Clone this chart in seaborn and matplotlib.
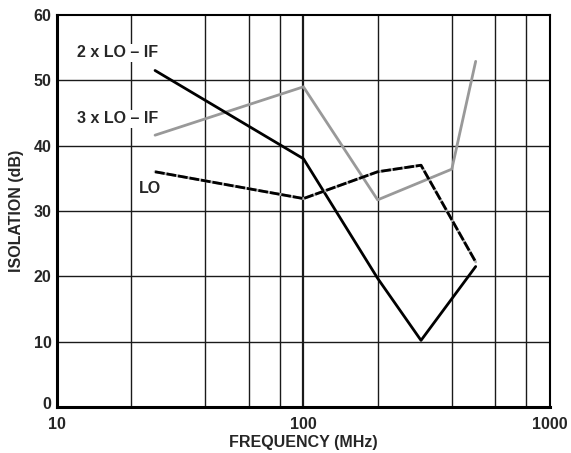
import pandas as pd
import matplotlib
matplotlib.use("Agg")
import matplotlib.pyplot as plt
import matplotlib.transforms as mtransforms
import seaborn as sns

# values
freq_2lo = [25, 100, 200, 300, 500]
iso_2lo = [51.5, 38.0, 19.7, 10.2, 21.5]

freq_3lo = [25, 100, 200, 400, 500]
iso_3lo = [41.6, 49.0, 31.7, 36.4, 52.9]

freq_lo = [25, 100, 200, 300, 500]
iso_lo = [36.0, 31.9, 36.0, 37.0, 22.2]

grid_x = [20, 40, 60, 80, 100, 200, 400, 600, 800]
grid_y = [10, 20, 30, 40, 50]
x_ticks = [10, 100, 1000]
x_labels = ['10', '100', '1000']
y_ticks = [0, 10, 20, 30, 40, 50, 60]

sns.set_style("white")
plt.rcParams['font.family'] = ['Liberation Sans', 'DejaVu Sans']
plt.rcParams['font.weight'] = 'bold'

df_2lo = pd.DataFrame({'freq': freq_2lo, 'iso': iso_2lo})
df_3lo = pd.DataFrame({'freq': freq_3lo, 'iso': iso_3lo})
df_lo = pd.DataFrame({'freq': freq_lo, 'iso': iso_lo})

fs = 11.5

fig = plt.figure(figsize=(5.71, 4.53), dpi=100)
ax = fig.add_axes([0.0998, 0.1015, 0.8632, 0.8655])

# grid
for gx in grid_x:
    ax.axvline(gx, color='#1a1a1a', lw=1.6 if gx == 100 else 1.0, zorder=1)
for gy in grid_y:
    ax.axhline(gy, color='#1a1a1a', lw=1.0, zorder=1)

sns.lineplot(data=df_3lo, x='freq', y='iso', color='#999999', lw=2, ax=ax, zorder=3)
sns.lineplot(data=df_2lo, x='freq', y='iso', color='black', lw=2, ax=ax, zorder=4)
sns.lineplot(data=df_lo, x='freq', y='iso', color='#b0b0b0', lw=2, ax=ax, zorder=5)
sns.lineplot(data=df_lo, x='freq', y='iso', color='black', lw=2, ax=ax, zorder=6,
             linestyle=(0, (3.5, 0.7)))

ax.set_xscale('log')
ax.set_xlim(10, 1000)
ax.set_ylim(0, 60)
ax.set_xticks(x_ticks)
ax.set_xticklabels(x_labels, fontsize=fs, fontweight='bold')
ax.set_xticks([], minor=True)
ax.set_yticks(y_ticks)
ax.set_yticklabels([str(v) for v in y_ticks], fontsize=fs, fontweight='bold')
ax.tick_params(axis='y', length=0, pad=4)
ax.tick_params(axis='x', length=0, pad=7)
# nudge the "0" label up a little, as in the original
zero_lab = ax.get_yticklabels()[0]
zero_lab.set_transform(zero_lab.get_transform() +
                       mtransforms.ScaledTranslation(0, 3 / 72, fig.dpi_scale_trans))

ax.set_xlabel('FREQUENCY (MHz)', fontsize=fs, fontweight='bold', labelpad=2)
ax.set_ylabel('ISOLATION (dB)', fontsize=fs, fontweight='bold', labelpad=7)

for side in ['top', 'right']:
    ax.spines[side].set_linewidth(1.5)
    ax.spines[side].set_color('black')
for side in ['bottom', 'left']:
    ax.spines[side].set_linewidth(2.2)
    ax.spines[side].set_color('black')

ax.text(12.1, 54.2, '2 x LO – IF', fontsize=fs, fontweight='bold', va='center',
        bbox=dict(facecolor='white', edgecolor='none', pad=1), zorder=7)
ax.text(12.1, 44.1, '3 x LO – IF', fontsize=fs, fontweight='bold', va='center',
        bbox=dict(facecolor='white', edgecolor='none', pad=1), zorder=7)
ax.text(21.5, 33.5, 'LO', fontsize=fs, fontweight='bold', va='center',
        bbox=dict(facecolor='white', edgecolor='none', pad=1), zorder=7)

fig.savefig('out.png', dpi=100)
